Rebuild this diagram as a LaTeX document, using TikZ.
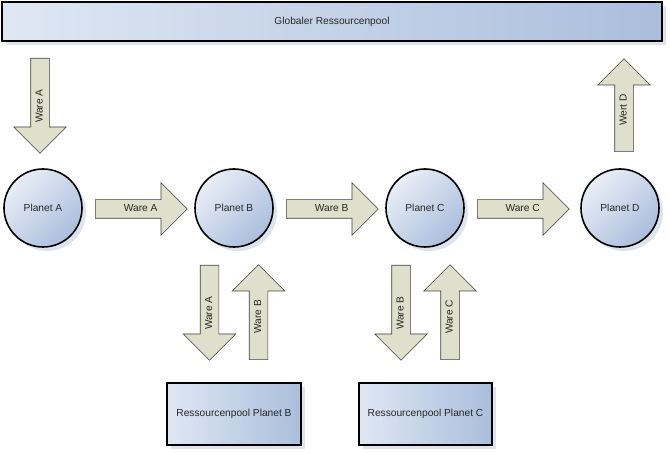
\documentclass[tikz,border=0pt]{standalone}
\usepackage{fontspec}
\setmainfont{Liberation Sans}
\usetikzlibrary{shapes.arrows,shadows,positioning}

\definecolor{poollight}{HTML}{DFE7F3}
\definecolor{pooldark}{HTML}{AABEDC}
\definecolor{planetlight}{HTML}{E9EEF7}
\definecolor{planetdark}{HTML}{ABBEDD}
\definecolor{warefill}{HTML}{DEE0CB}
\definecolor{shadowblue}{HTML}{DDE4EF}

\tikzset{
  pool/.style={draw=black, line width=1.6pt, rectangle, inner sep=2pt,
    left color=poollight, right color=pooldark,
    drop shadow={shadow xshift=4pt, shadow yshift=-4pt, fill=shadowblue, opacity=1}},
  planet/.style={draw=black, line width=1.6pt, circle, minimum size=78pt, inner sep=0pt,
    top color=planetlight, bottom color=planetdark, shading angle=45,
    drop shadow={shadow xshift=4pt, shadow yshift=-4pt, fill=shadowblue, opacity=1}},
  ware/.style={draw=black!75, line width=0.6pt, fill=warefill, single arrow,
    single arrow head extend=17pt, text height=7pt, text depth=2pt,
    inner ysep=4.5pt, inner xsep=2pt, anchor=tail}
}

\begin{document}
\begin{tikzpicture}[x=1pt, y=-1pt, every node/.append style={font=\fontsize{10.2}{12}\selectfont, text=black!85}]
\useasboundingbox (0,0) rectangle (670,454);

% globaler Pool
\node[pool, minimum width=660pt, minimum height=39pt] (global) at (332,21.5) {Globaler Ressourcenpool};

% Planeten
\node[planet] (pA) at (43,208) {Planet A};
\node[planet] (pB) at (234,208) {Planet B};
\node[planet] (pC) at (425,208) {Planet C};
\node[planet] (pD) at (620,208) {Planet D};

% lokale Pools
\node[pool, minimum width=134pt, minimum height=62pt] (poolB) at (234,414) {Ressourcenpool Planet B};
\node[pool, minimum width=133pt, minimum height=62pt] (poolC) at (425.5,414) {Ressourcenpool Planet C};

% Waren zwischen den Planeten
\foreach \x/\w/\n in {95/A/AB, 286/B/BC, 477/C/CD}
  \node[ware, minimum height=92pt] (w\n) at (\x,209) {\hspace*{8pt}Ware \w};

% globaler Pool <-> Planeten
\node[ware, rotate=90, shape border rotate=180, minimum height=95pt] (wA) at (40,58) {Ware A\hspace*{10pt}};
\node[ware, rotate=90, minimum height=93pt] (wD) at (624,152) {Wert D};

% Planeten <-> lokale Pools
\node[ware, rotate=90, shape border rotate=180, minimum height=95pt] (wBdown) at (209.5,265) {Ware A\hspace*{10pt}};
\node[ware, rotate=90, minimum height=95pt] (wBup) at (258.5,360) {Ware B};
\node[ware, rotate=90, shape border rotate=180, minimum height=95pt] (wCdown) at (401,265) {Ware B\hspace*{10pt}};
\node[ware, rotate=90, minimum height=95pt] (wCup) at (450,360) {Ware C};

\end{tikzpicture}
\end{document}
